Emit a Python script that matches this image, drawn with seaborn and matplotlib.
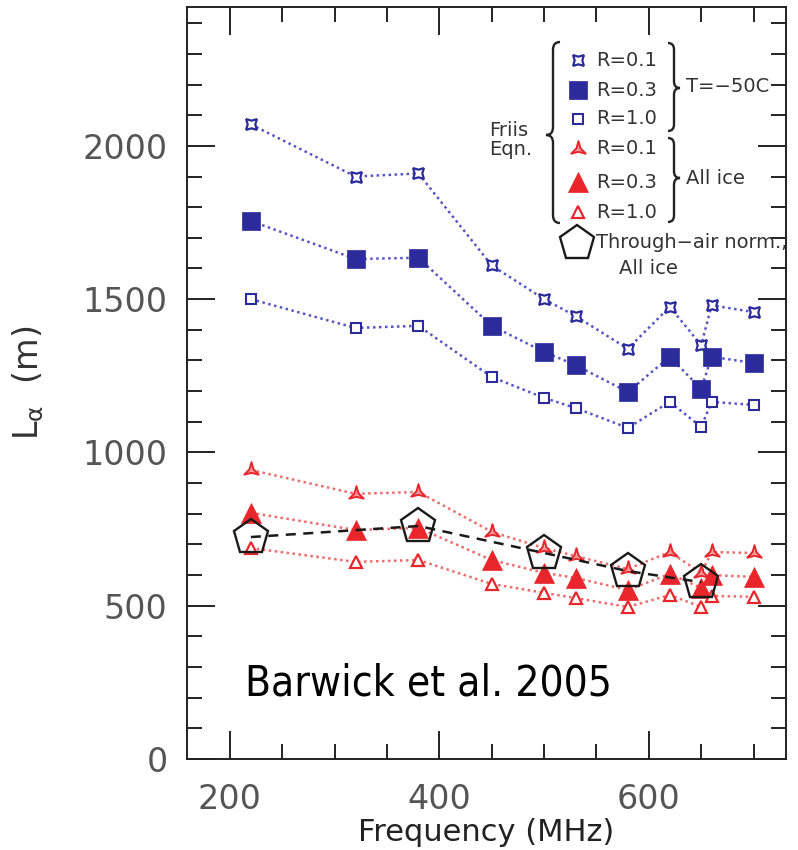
import numpy as np
import pandas as pd
import matplotlib
matplotlib.use("Agg")
import matplotlib.pyplot as plt
import seaborn as sns
from matplotlib.path import Path
from matplotlib.patches import PathPatch
from matplotlib.lines import Line2D
from matplotlib.transforms import Affine2D
from matplotlib.ticker import MultipleLocator

# ---------------- data ----------------
freq = [220, 320, 380, 450, 500, 530, 580, 620, 650, 660, 700]
blue_r01 = [2070, 1900, 1910, 1610, 1500, 1445, 1338, 1475, 1350, 1480, 1458]
blue_r03 = [1755, 1631, 1635, 1413, 1328, 1285, 1197, 1312, 1207, 1312, 1292]
blue_r10 = [1500, 1406, 1413, 1246, 1178, 1145, 1080, 1165, 1083, 1165, 1155]
red_r01 = [943, 865, 871, 741, 688, 662, 620, 675, 607, 675, 672]
red_r03 = [803, 747, 754, 649, 607, 591, 551, 604, 558, 600, 594]
red_r10 = [688, 643, 649, 571, 542, 525, 496, 535, 496, 532, 529]
pent_freq = [220, 380, 500, 580, 650]
pent_vals = [724, 760, 672, 613, 577]

r_labels = ["R=0.1", "R=0.3", "R=1.0"]
group_labels = ["T=\u221250C", "All ice"]
friis_label = "Friis\nEqn."
pent_label = ["Through\u2212air norm.,", "All ice"]
x_ticks = [200, 400, 600]
y_ticks = [0, 500, 1000, 1500, 2000]
note = "Barwick et al. 2005"

# ---------------- style ----------------
sns.set_theme(style="ticks")
plt.rcParams["font.family"] = ["DejaVu Sans"]

W, H = 798, 850
fig = plt.figure(figsize=(W / 100, H / 100), dpi=100)
fig.patch.set_facecolor("white")
ax = fig.add_axes([187 / W, 1 - 759 / H, (786 - 187) / W, (759 - 7) / H])
ax.set_facecolor("white")

BLUE = "#2b2b9c"
BLUE_LINE = "#5555c8"
RED = "#e8262b"
RED_LINE = "#f06a6a"
dots = (0, (1.0, 1.4))

star4 = (4, 1, 45)
# three-pointed star with deep concave sides
_ang_out = np.deg2rad([90, 210, 330])
_ang_in = np.deg2rad([150, 270, 30])
_v = []
for a_o, a_i in zip(_ang_out, _ang_in):
    _v.append((np.cos(a_o), np.sin(a_o)))
    _v.append((0.28 * np.cos(a_i), 0.28 * np.sin(a_i)))
_v.append(_v[0])
star3 = Path(_v, closed=True)

specs = [
    (blue_r01, BLUE_LINE, dict(marker=star4, markersize=11, markerfacecolor="white",
                               markeredgecolor=BLUE, markeredgewidth=1.6)),
    (blue_r03, BLUE_LINE, dict(marker="s", markersize=13.5, markerfacecolor=BLUE,
                               markeredgecolor=BLUE, markeredgewidth=0.5)),
    (blue_r10, BLUE_LINE, dict(marker="s", markersize=7, markerfacecolor="white",
                               markeredgecolor=BLUE, markeredgewidth=1.5)),
    (red_r01, RED_LINE, dict(marker=star3, markersize=12, markerfacecolor="#f5a0a0",
                             markeredgecolor=RED, markeredgewidth=1.4)),
    (red_r03, RED_LINE, dict(marker="^", markersize=15, markerfacecolor=RED,
                             markeredgecolor=RED, markeredgewidth=0.5)),
    (red_r10, RED_LINE, dict(marker="^", markersize=8, markerfacecolor="white",
                             markeredgecolor=RED, markeredgewidth=1.6)),
]

for vals, lc, mk in specs:
    df = pd.DataFrame({"f": freq, "L": vals})
    sns.lineplot(data=df, x="f", y="L", ax=ax, color=lc, linestyle=dots,
                 linewidth=1.8, legend=False, zorder=3, **mk)

PENT = dict(marker="p", markersize=26, markerfacecolor="none",
            markeredgecolor="#1a1a1a", markeredgewidth=1.7)
dfp = pd.DataFrame({"f": pent_freq, "L": pent_vals})
sns.lineplot(data=dfp, x="f", y="L", ax=ax, color="#1a1a1a", linestyle=(0, (4, 3)),
             linewidth=1.8, legend=False, zorder=4, **PENT)

ax.set_xlim(159, 731)
ax.set_ylim(0, 2453)
ax.xaxis.set_major_locator(MultipleLocator(200))
ax.xaxis.set_minor_locator(MultipleLocator(50))
ax.yaxis.set_major_locator(MultipleLocator(500))
ax.yaxis.set_minor_locator(MultipleLocator(100))
ax.set_xticks(x_ticks)
ax.set_yticks(y_ticks)
ax.set_xticklabels([str(v) for v in x_ticks])
ax.set_yticklabels([str(v) for v in y_ticks])
ax.tick_params(which="both", direction="in", top=True, right=True, color="#222222",
               width=1.4, labelsize=24, labelcolor="#555555")
ax.tick_params(which="major", length=20)
ax.tick_params(which="minor", length=11)
ax.tick_params(axis="y", pad=14)
ax.tick_params(axis="x", pad=17)
for s in ax.spines.values():
    s.set_linewidth(1.4)
    s.set_color("#222222")
    s.set_visible(True)

ax.set_xlabel("Frequency (MHz)", fontsize=22, color="#222222")
ax.set_ylabel(r"$\mathregular{L_\alpha}$  (m)", fontsize=24, color="#333333")
ax.yaxis.set_label_coords(-0.235, 0.5)
ax.xaxis.set_label_coords(0.5, -0.078)

# ---------------- hand-made legend (pixel coordinates) ----------------
pix = Affine2D().scale(1 / W, -1 / H).translate(0, 1) + fig.transFigure


def brace(x, y0, y1, ym, w, d):
    r = w * 0.55
    verts = [
        (x - d * w / 2, y0), (x, y0), (x, y0 + r),
        (x, ym - r),
        (x, ym), (x + d * w / 2, ym),
        (x, ym), (x, ym + r),
        (x, y1 - r),
        (x, y1), (x - d * w / 2, y1),
    ]
    codes = [Path.MOVETO, Path.CURVE3, Path.CURVE3, Path.LINETO,
             Path.CURVE3, Path.CURVE3, Path.CURVE3, Path.CURVE3,
             Path.LINETO, Path.CURVE3, Path.CURVE3]
    fig.add_artist(PathPatch(Path(verts, codes), transform=pix, fill=False,
                             edgecolor="#222222", linewidth=1.7))


brace(553, 42, 223, 135, 14, -1)
brace(674, 43, 131, 88, 12, +1)
brace(674, 138, 222, 178, 12, +1)

LEG_FS = 14
row_y = [60, 90, 119, 149, 182, 212]
leg_labels = r_labels + r_labels
for (vals, lc, mk), yy, lab in zip(specs, row_y, leg_labels):
    fig.add_artist(Line2D([578], [yy], transform=pix, linestyle="none", **mk))
    fig.text(596 / W, 1 - yy / H, lab, fontsize=LEG_FS, color="#333333",
             ha="left", va="center")

fig.text(489 / W, 1 - 140 / H, friis_label, fontsize=LEG_FS, color="#333333",
         ha="left", va="center", linespacing=1.0)
fig.text(686 / W, 1 - 87 / H, group_labels[0], fontsize=LEG_FS, color="#333333",
         ha="left", va="center")
fig.text(686 / W, 1 - 178 / H, group_labels[1], fontsize=LEG_FS, color="#333333",
         ha="left", va="center")

fig.add_artist(Line2D([577], [243], transform=pix, linestyle="none", **PENT))
tp = fig.text(596 / W, 1 - 243 / H, pent_label[0], fontsize=LEG_FS, color="#333333",
              ha="left", va="center")
fig.text(648 / W, 1 - 269 / H, pent_label[1], fontsize=LEG_FS, color="#333333",
         ha="center", va="center")

# ---------------- annotation ----------------
t = fig.text(245 / W, 1 - 683 / H, note, fontsize=26, color="black",
             ha="left", va="center", fontstretch="condensed")
fig.canvas.draw()
bb = t.get_window_extent()
t.set_fontsize(26 * 367 / bb.width)
bbp = tp.get_window_extent()
if bbp.width > 191:
    tp.set_fontsize(LEG_FS * 191 / bbp.width)

fig.savefig("out.png", dpi=100, facecolor="white")
